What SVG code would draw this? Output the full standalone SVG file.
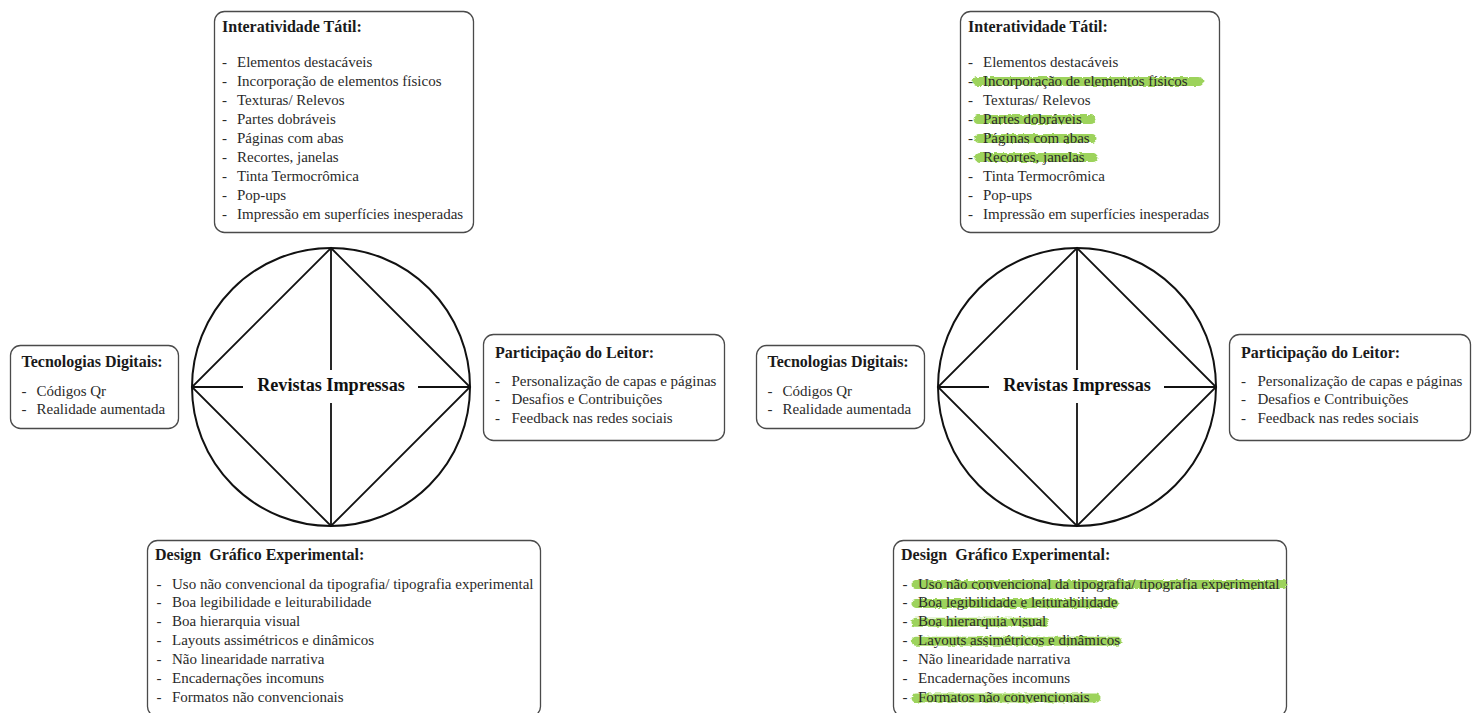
<svg xmlns="http://www.w3.org/2000/svg" width="1477" height="713" viewBox="0 0 1477 713">
<style>
.box{fill:#fff;stroke:#4a4a4a;stroke-width:1.3}
.t{font-family:"Liberation Serif","Times New Roman",serif;font-weight:bold;font-size:16px;fill:#1a1a1a;white-space:pre}
.i{font-family:"Liberation Serif","Times New Roman",serif;font-size:15px;fill:#2a2a2a}
.c{font-family:"Liberation Serif","Times New Roman",serif;font-weight:bold;font-size:18.2px;fill:#111;text-anchor:middle}
.ln{stroke:#111;stroke-width:1.8;fill:none}
.circ{fill:#fff;stroke:#111;stroke-width:2}
.hl{stroke:#93cf4b;stroke-width:9;stroke-linecap:round;fill:none;opacity:0.9;filter:url(#brush)}
</style>
<defs>
<filter id="brush" x="-5%" y="-60%" width="110%" height="220%">
<feTurbulence type="fractalNoise" baseFrequency="0.2 0.5" numOctaves="2" seed="3" result="n"/>
<feDisplacementMap in="SourceGraphic" in2="n" scale="3.5" xChannelSelector="R" yChannelSelector="G"/>
</filter>
</defs>
<rect width="1477" height="713" fill="#fff"/>

<!-- LEFT PANEL -->
<g id="left-panel">
<g id="L-center">
<circle class="circ" cx="331" cy="387" r="139"/>
<text class="c" x="331" y="391">Revistas Impressas</text>
</g>
<g id="L-connectors">
<path class="ln" d="M331 248 L470 387 L331 526 L192 387 Z"/>
<path class="ln" d="M192 387 H243 M418 387 H470 M331 248 V370 M331 403 V526"/>
</g>
<g id="L-tatil">
<rect class="box" x="214.5" y="11.5" width="259" height="221" rx="10"/>
<text class="t" x="222" y="32">Interatividade Tátil:</text>
<g class="i">
<text x="222" y="66.5">-</text><text x="237" y="66.5">Elementos destacáveis</text>
<text x="222" y="85.5">-</text><text x="237" y="85.5">Incorporação de elementos físicos</text>
<text x="222" y="104.5">-</text><text x="237" y="104.5">Texturas/ Relevos</text>
<text x="222" y="123.5">-</text><text x="237" y="123.5">Partes dobráveis</text>
<text x="222" y="142.5">-</text><text x="237" y="142.5">Páginas com abas</text>
<text x="222" y="161.5">-</text><text x="237" y="161.5">Recortes, janelas</text>
<text x="222" y="180.5">-</text><text x="237" y="180.5">Tinta Termocrômica</text>
<text x="222" y="199.5">-</text><text x="237" y="199.5">Pop-ups</text>
<text x="222" y="218.5">-</text><text x="237" y="218.5">Impressão em superfícies inesperadas</text>
</g>
</g>
<g id="L-tecnologias">
<rect class="box" x="10.5" y="345.5" width="168" height="83" rx="10"/>
<text class="t" x="21.5" y="366.5">Tecnologias Digitais:</text>
<g class="i">
<text x="21.5" y="395.5">-</text><text x="36.5" y="395.5">Códigos Qr</text>
<text x="21.5" y="414">-</text><text x="36.5" y="414">Realidade aumentada</text>
</g>
</g>
<g id="L-participacao">
<rect class="box" x="483.5" y="334.5" width="241" height="106" rx="10"/>
<text class="t" x="495" y="357.5">Participação do Leitor:</text>
<g class="i">
<text x="495" y="385.5">-</text><text x="511.5" y="385.5">Personalização de capas e páginas</text>
<text x="495" y="404">-</text><text x="511.5" y="404">Desafios e Contribuições</text>
<text x="495" y="422.5">-</text><text x="511.5" y="422.5">Feedback nas redes sociais</text>
</g>
</g>
<g id="L-design">
<rect class="box" x="147.5" y="540.5" width="393" height="176" rx="10"/>
<text class="t" x="155" y="560">Design  Gráfico Experimental:</text>
<g class="i">
<text x="156.5" y="588.5">-</text><text x="172" y="588.5">Uso não convencional da tipografia/ tipografia experimental</text>
<text x="156.5" y="607.4">-</text><text x="172" y="607.4">Boa legibilidade e leiturabilidade</text>
<text x="156.5" y="626.3">-</text><text x="172" y="626.3">Boa hierarquia visual</text>
<text x="156.5" y="645.2">-</text><text x="172" y="645.2">Layouts assimétricos e dinâmicos</text>
<text x="156.5" y="664.1">-</text><text x="172" y="664.1">Não linearidade narrativa</text>
<text x="156.5" y="683">-</text><text x="172" y="683">Encadernações incomuns</text>
<text x="156.5" y="701.9">-</text><text x="172" y="701.9">Formatos não convencionais</text>
</g>
</g>
</g>

<!-- RIGHT PANEL -->
<g id="right-panel" transform="translate(746,0)">
<g id="R-center">
<circle class="circ" cx="331" cy="387" r="139"/>
<text class="c" x="331" y="391">Revistas Impressas</text>
</g>
<g id="R-connectors">
<path class="ln" d="M331 248 L470 387 L331 526 L192 387 Z"/>
<path class="ln" d="M192 387 H243 M418 387 H470 M331 248 V370 M331 403 V526"/>
</g>
<g id="R-tatil">
<rect class="box" x="214.5" y="11.5" width="259" height="221" rx="10"/>
<path class="hl" d="M231 81.5 H453 M232 119.5 H345 M233 138.5 H346 M233 157.5 H347"/>
<text class="t" x="222" y="32">Interatividade Tátil:</text>
<g class="i">
<text x="222" y="66.5">-</text><text x="237" y="66.5">Elementos destacáveis</text>
<text x="222" y="85.5">-</text><text x="237" y="85.5">Incorporação de elementos físicos</text>
<text x="222" y="104.5">-</text><text x="237" y="104.5">Texturas/ Relevos</text>
<text x="222" y="123.5">-</text><text x="237" y="123.5">Partes dobráveis</text>
<text x="222" y="142.5">-</text><text x="237" y="142.5">Páginas com abas</text>
<text x="222" y="161.5">-</text><text x="237" y="161.5">Recortes, janelas</text>
<text x="222" y="180.5">-</text><text x="237" y="180.5">Tinta Termocrômica</text>
<text x="222" y="199.5">-</text><text x="237" y="199.5">Pop-ups</text>
<text x="222" y="218.5">-</text><text x="237" y="218.5">Impressão em superfícies inesperadas</text>
</g>
</g>
<g id="R-tecnologias">
<rect class="box" x="10.5" y="345.5" width="168" height="83" rx="10"/>
<path class="hl" d="M33 391 H111"/>
<text class="t" x="21.5" y="366.5">Tecnologias Digitais:</text>
<g class="i">
<text x="21.5" y="395.5">-</text><text x="36.5" y="395.5">Códigos Qr</text>
<text x="21.5" y="414">-</text><text x="36.5" y="414">Realidade aumentada</text>
</g>
</g>
<g id="R-participacao">
<rect class="box" x="483.5" y="334.5" width="241" height="106" rx="10"/>
<path class="hl" d="M507 382 H715"/>
<text class="t" x="495" y="357.5">Participação do Leitor:</text>
<g class="i">
<text x="495" y="385.5">-</text><text x="511.5" y="385.5">Personalização de capas e páginas</text>
<text x="495" y="404">-</text><text x="511.5" y="404">Desafios e Contribuições</text>
<text x="495" y="422.5">-</text><text x="511.5" y="422.5">Feedback nas redes sociais</text>
</g>
</g>
<g id="R-design">
<rect class="box" x="147.5" y="540.5" width="393" height="176" rx="10"/>
<path class="hl" d="M170 584.5 H537 M170 603.4 H368 M170 622.3 H298 M170 641.2 H371 M170 698 H350"/>
<text class="t" x="155" y="560">Design  Gráfico Experimental:</text>
<g class="i">
<text x="156.5" y="588.5">-</text><text x="172" y="588.5">Uso não convencional da tipografia/ tipografia experimental</text>
<text x="156.5" y="607.4">-</text><text x="172" y="607.4">Boa legibilidade e leiturabilidade</text>
<text x="156.5" y="626.3">-</text><text x="172" y="626.3">Boa hierarquia visual</text>
<text x="156.5" y="645.2">-</text><text x="172" y="645.2">Layouts assimétricos e dinâmicos</text>
<text x="156.5" y="664.1">-</text><text x="172" y="664.1">Não linearidade narrativa</text>
<text x="156.5" y="683">-</text><text x="172" y="683">Encadernações incomuns</text>
<text x="156.5" y="701.9">-</text><text x="172" y="701.9">Formatos não convencionais</text>
</g>
</g>
</g>
</svg>
